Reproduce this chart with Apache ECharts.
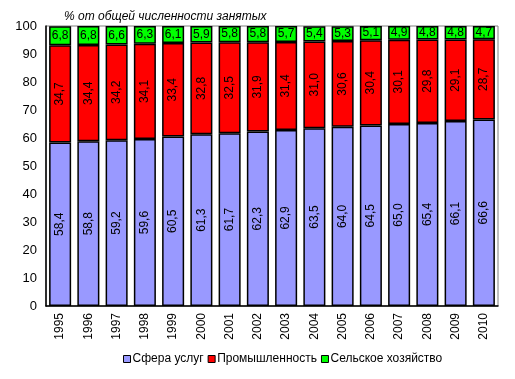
<!DOCTYPE html>
<html><head><meta charset="utf-8">
<script src="https://cdn.jsdelivr.net/npm/echarts@6/dist/echarts.min.js"></script>
<style>html,body{margin:0;padding:0;background:#fff}#c{width:515px;height:379px}</style>
</head><body><div id="c"></div>
<script>
const years = ['1995','1996','1997','1998','1999','2000','2001','2002','2003','2004','2005','2006','2007','2008','2009','2010'];
const services = [58.4,58.8,59.2,59.6,60.5,61.3,61.7,62.3,62.9,63.5,64.0,64.5,65.0,65.4,66.1,66.6];
const industry = [34.7,34.4,34.2,34.1,33.4,32.8,32.5,31.9,31.4,31.0,30.6,30.4,30.1,29.8,29.1,28.7];
const agriculture = [6.8,6.8,6.6,6.3,6.1,5.9,5.8,5.8,5.7,5.4,5.3,5.1,4.9,4.8,4.8,4.7];
const seriesNames = ['Сфера услуг','Промышленность','Сельское хозяйство'];
const colors = ['#9999FF','#FF0000','#00FF00'];

const fmt = p => p.value.toFixed(1).replace('.', ',');
const font = 'Arial, "Liberation Sans", sans-serif';

function mk(name, data, color, rotate) {
  return {
    name, type: 'bar', stack: 'a', data,
    barCategoryGap: '22%',
    itemStyle: { color, borderColor: '#000', borderWidth: 1.5 },
    label: {
      show: true, position: 'inside', formatter: fmt,
      rotate: rotate ? 90 : 0, color: '#000', fontFamily: font, fontSize: 12
    }
  };
}

const chart = echarts.init(document.getElementById('c'), null, {renderer: 'canvas'});
chart.setOption({
  animation: false,
  title: {
    text: '% от общей численности занятых', left: 59, top: 6,
    textStyle: { fontFamily: font, fontSize: 12, fontStyle: 'italic', fontWeight: 'normal', color: '#000' }
  },
  legend: {
    bottom: 9, left: 118, itemWidth: 7, itemHeight: 7, itemGap: 4,
    icon: 'rect',
    textStyle: { fontFamily: font, fontSize: 12, color: '#000', padding: [0,0,0,-3] },
    data: seriesNames.map((n,i)=>({name:n, itemStyle:{color:colors[i], borderColor:'#000', borderWidth:1}}))
  },
  grid: { left: 46, right: 17, top: 26, bottom: 73, show: true, borderColor: '#808080', borderWidth: 1 },
  xAxis: {
    type: 'category', data: years,
    axisLine: { lineStyle: { color: '#000', width: 1.5 } },
    axisTick: { show: false },
    axisLabel: { rotate: 90, color: '#000', fontFamily: font, fontSize: 12, margin: 7 }
  },
  yAxis: {
    type: 'value', min: 0, max: 100, interval: 10,
    axisLine: { show: true, lineStyle: { color: '#000', width: 1.5 } },
    axisTick: { show: false },
    splitLine: { show: false },
    axisLabel: { color: '#000', fontFamily: font, fontSize: 13, margin: 9 }
  },
  series: [
    mk(seriesNames[0], services, colors[0], true),
    mk(seriesNames[1], industry, colors[1], true),
    mk(seriesNames[2], agriculture, colors[2], false)
  ]
});
</script></body></html>
